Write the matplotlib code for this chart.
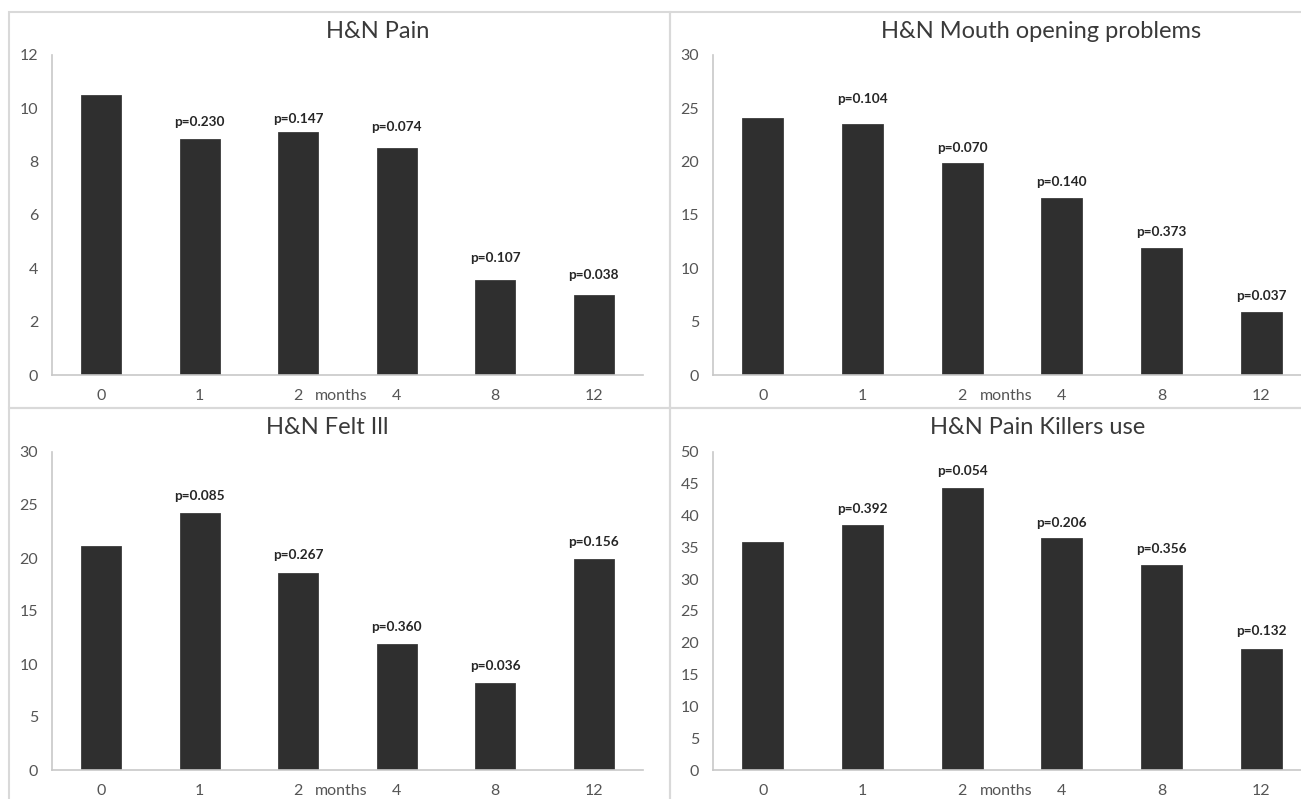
import matplotlib
matplotlib.use("Agg")
import matplotlib.pyplot as plt
from matplotlib.patches import Rectangle

plt.rcParams['font.family'] = ['Lato', 'DejaVu Sans']

months = ["0", "1", "2", "4", "8", "12"]

pain = [10.5, 8.85, 9.1, 8.5, 3.58, 3.0]
pain_p = ["p=0.230", "p=0.147", "p=0.074", "p=0.107", "p=0.038"]

mouth = [24.05, 23.55, 19.9, 16.55, 11.9, 5.95]
mouth_p = ["p=0.104", "p=0.070", "p=0.140", "p=0.373", "p=0.037"]

felt_ill = [21.1, 24.2, 18.6, 11.9, 8.25, 19.9]
felt_ill_p = ["p=0.085", "p=0.267", "p=0.360", "p=0.036", "p=0.156"]

painkillers = [35.8, 38.6, 44.3, 36.5, 32.2, 18.95]
painkillers_p = ["p=0.392", "p=0.054", "p=0.206", "p=0.356", "p=0.132"]

W, H = 1301, 799
fig = plt.figure(figsize=(W / 100, H / 100), dpi=100)


def fx(px):
    return px / W


def fy(py):
    return 1 - py / H


# panel frames
for x0, y0, x1, y1 in [(9, 12, 670, 408), (670, 12, 1320, 408),
                       (9, 408, 670, 820), (670, 408, 1320, 820)]:
    fig.patches.append(Rectangle((fx(x0), fy(y1)), fx(x1 - x0), (y1 - y0) / H,
                                 transform=fig.transFigure, fill=False,
                                 edgecolor="#d9d9d9", linewidth=1.5, zorder=0))

panels = [
    ("H&N Pain", pain, pain_p, 12, 2, (52, 55, 643, 375), 378, 32,
     [17, 13, 21, 22, 20]),
    ("H&N Mouth opening problems", mouth, mouth_p, 30, 5, (713, 55, 1311, 375), 1041, 32,
     [25, 15, 16, 16, 16]),
    ("H&N Felt Ill", felt_ill, felt_ill_p, 30, 5, (52, 452, 643, 770), 327, 428,
     [17, 18, 17, 17, 17]),
    ("H&N Pain Killers use", painkillers, painkillers_p, 50, 5, (713, 452, 1311, 770), 1038, 428,
     [16, 17, 15, 16, 18]),
]

for title, vals, plabels, ymax, step, (l, t, r, b), tx, ty, offs in panels:
    ax = fig.add_axes([fx(l), fy(b), fx(r - l), (b - t) / H])
    xs = range(len(months))
    bars = ax.bar(xs, vals, width=0.41, color="#2f2f2f", edgecolor="#3c3c3c", linewidth=0.6)
    ax.set_xlim(-0.5, len(months) - 0.5)
    ax.set_ylim(0, ymax)
    ax.set_yticks(range(0, ymax + 1, step))
    ax.set_xticks(list(xs))
    ax.set_xticklabels(months)
    ax.tick_params(length=0, labelsize=11.5, labelcolor="#555555", pad=10)
    for s in ["top", "right"]:
        ax.spines[s].set_visible(False)
    for s in ["left", "bottom"]:
        ax.spines[s].set_color("#c8c8c8")
        ax.spines[s].set_linewidth(1.2)
    ax.patch.set_alpha(0)

    # p-values above every follow-up bar
    for bar, lab, off in zip(bars[1:], plabels, offs):
        ax.annotate(lab, (bar.get_x() + bar.get_width() / 2, bar.get_height()),
                    xytext=(0, off * 0.72), textcoords="offset points",
                    ha="center", va="center", fontsize=9.8, fontweight="bold",
                    color="#262626")

    # axis title squeezed in next to the "2" tick
    ax.annotate("months", (2.44, 0), xycoords=ax.get_xaxis_transform(),
                xytext=(0, -10), textcoords="offset points",
                ha="center", va="top", fontsize=11.5, color="#555555")
    fig.text(fx(tx), fy(ty), title, ha="center", va="center", fontsize=17,
             color="#3a3a3a")

fig.savefig("out.png", dpi=100)
